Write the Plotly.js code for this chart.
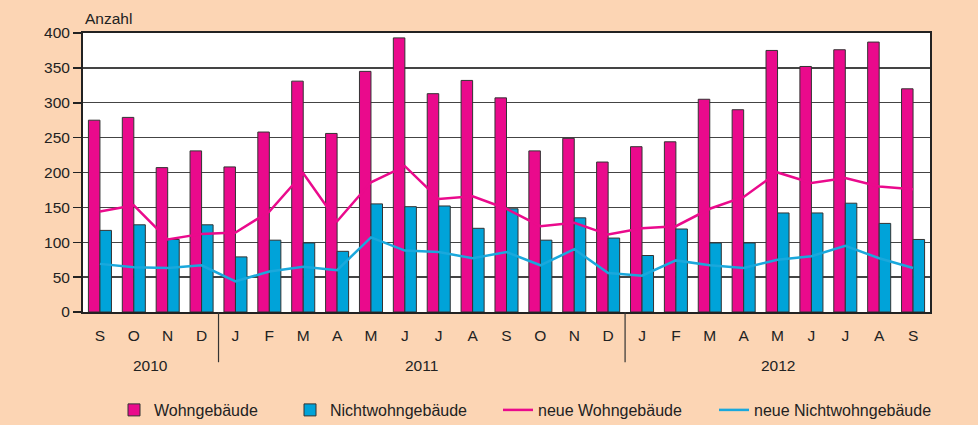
<!DOCTYPE html>
<html>
<head>
<meta charset="utf-8">
<script src="https://cdn.plot.ly/plotly-3.0.1.min.js"></script>
<style>html,body{margin:0;padding:0;background:#FCD5B4;}#chart{width:978px;height:425px;}</style>
</head>
<body>
<div id="chart"></div>
<script>
// Month labels (Sep 2010 – Sep 2012)
const months = ['S','O','N','D','J','F','M','A','M','J','J','A','S','O','N','D','J','F','M','A','M','J','J','A','S'];
const yearNames = ['2010','2011','2012'];
const yearMonthCounts = [4, 12, 9];

// Series values (Anzahl)
const wohngebaeude = [275,279,207,231,208,258,331,256,345,393,313,332,307,231,249,215,237,244,305,290,375,352,376,387,320];
const nichtwohngebaeude = [117,125,104,125,79,103,99,87,155,151,152,120,148,103,135,106,81,119,99,99,142,142,156,127,104];
const neueWohngebaeude = [144,153,104,112,114,144,199,130,186,209,162,166,148,123,128,111,120,123,148,165,200,185,192,180,176];
const neueNichtwohngebaeude = [69,64,63,67,44,58,65,60,107,88,86,77,86,67,90,56,52,74,67,63,75,80,95,77,63];

const xs = months.map((_, i) => i);
const FONT = 'Liberation Sans, Arial, sans-serif';
const MAG = '#EA0A8C';
const CYA = '#00A3D9';

const traces = [
  {type:'bar', name:'Wohngebäude', x:xs, y:wohngebaeude, legend:'legend',
   marker:{color:MAG, line:{color:'#333', width:1}}},
  {type:'bar', name:'Nichtwohngebäude', x:xs, y:nichtwohngebaeude, legend:'legend2',
   marker:{color:CYA, line:{color:'#333', width:1}}},
  {type:'scatter', mode:'lines', name:'neue Wohngebäude', x:xs, y:neueWohngebaeude, legend:'legend3',
   line:{color:MAG, width:2.5}},
  {type:'scatter', mode:'lines', name:'neue Nichtwohngebäude', x:xs, y:neueNichtwohngebaeude, legend:'legend4',
   line:{color:'#1AA8DC', width:2.5}}
];

// Year labels and separators derived from month counts
const annotations = [];
const shapes = [];
let start = 0;
yearNames.forEach((yr, k) => {
  const n = yearMonthCounts[k];
  annotations.push({xref:'x', yref:'paper', x:start + (n - 1) / 2, y:-0.19, text:yr, showarrow:false,
    xanchor:'center', yanchor:'middle', font:{family:FONT, size:15.5, color:'#222'}});
  if (k > 0) {
    shapes.push({type:'line', xref:'x', yref:'paper', x0:start - 0.5, x1:start - 0.5, y0:0, y1:-0.18,
      line:{color:'#333', width:1.2}});
  }
  start += n;
});
annotations.push({xref:'paper', yref:'paper', x:0, y:1, xanchor:'left', yanchor:'bottom', yshift:4,
  text:'Anzahl', showarrow:false, font:{family:FONT, size:15.5, color:'#222'}});

const legendBase = {orientation:'h', xref:'container', yref:'container', y:1 - 410 / 425, xanchor:'left', yanchor:'middle',
  bgcolor:'rgba(0,0,0,0)', font:{family:FONT, size:16, color:'#222'}};
const cx = v => v / 978;

const layout = {
  width:978, height:425,
  paper_bgcolor:'#FCD5B4', plot_bgcolor:'#FFFFFF',
  margin:{l:83, r:48, t:33, b:113, autoexpand:false},
  font:{family:FONT, size:15.5, color:'#222'},
  barmode:'group', bargap:0.32, bargroupgap:0,
  showlegend:true,
  legend: Object.assign({}, legendBase, {x:cx(114)}),
  legend2: Object.assign({}, legendBase, {x:cx(290)}),
  legend3: Object.assign({}, legendBase, {x:cx(498)}),
  legend4: Object.assign({}, legendBase, {x:cx(714)}),
  xaxis:{range:[-0.5, 24.5], tickmode:'array', tickvals:xs, ticktext:months, ticks:'',
    showline:true, mirror:true, linecolor:'#222', linewidth:2, showgrid:false, zeroline:false,
    ticklabelstandoff:8, tickfont:{family:FONT, size:15.5, color:'#222'}, fixedrange:true},
  yaxis:{range:[0, 400], dtick:50, ticks:'outside', ticklen:8, tickcolor:'#222', tickwidth:1.5,
    showline:true, mirror:true, linecolor:'#222', linewidth:2, showgrid:true, gridcolor:'#444', gridwidth:1.3,
    zeroline:false, tickfont:{family:FONT, size:15.5, color:'#222'}, fixedrange:true},
  annotations: annotations,
  shapes: shapes
};

Plotly.newPlot('chart', traces, layout, {staticPlot:true, displayModeBar:false});
</script>
</body>
</html>
